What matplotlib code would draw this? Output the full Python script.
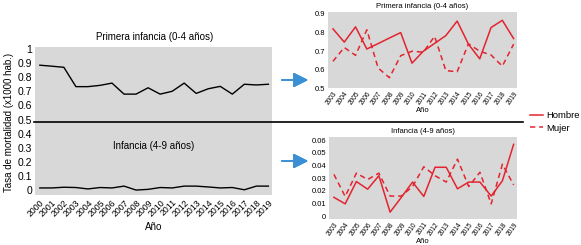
import matplotlib
matplotlib.use('Agg')
import matplotlib.pyplot as plt
from matplotlib.lines import Line2D
import numpy as np

plt.rcParams['font.family'] = ['Liberation Sans', 'DejaVu Sans']

# serie total 2000-2019
years_all = list(range(2000, 2020))
primera_total = [0.885, 0.878, 0.87, 0.733, 0.733, 0.742, 0.758, 0.68, 0.68, 0.725,
                 0.68, 0.70, 0.758, 0.685, 0.718, 0.735, 0.68, 0.75, 0.745, 0.75]
infancia_total = [0.015, 0.015, 0.02, 0.018, 0.008, 0.018, 0.015, 0.028, 0.0, 0.005,
                  0.018, 0.015, 0.028, 0.028, 0.022, 0.015, 0.018, 0.002, 0.028, 0.028]

# por sexo 2003-2019
years_sex = list(range(2003, 2020))
primera_h = [0.82, 0.749, 0.831, 0.712, 0.741, 0.771, 0.80, 0.636, 0.70, 0.742,
             0.784, 0.862, 0.738, 0.659, 0.827, 0.866, 0.768]
primera_m = [0.646, 0.72, 0.678, 0.815, 0.61, 0.558, 0.676, 0.70, 0.695, 0.78,
             0.596, 0.59, 0.74, 0.70, 0.68, 0.62, 0.738]
infancia_h = [0.015, 0.0099, 0.0274, 0.0214, 0.032, 0.0034, 0.015, 0.027, 0.0157, 0.0386,
              0.0386, 0.0217, 0.027, 0.027, 0.016, 0.028, 0.0566]
infancia_m = [0.033, 0.0157, 0.034, 0.029, 0.034, 0.016, 0.016, 0.0235, 0.039, 0.032,
              0.027, 0.045, 0.0235, 0.0347, 0.0099, 0.041, 0.0248]

gris = '#d8d8d8'
rojo = '#e3242f'
azul = '#3b8fd5'

fig = plt.figure(figsize=(5.81, 2.45), dpi=100)

# panel izquierdo
ax = fig.add_axes([35/581, 1-195/245, 237/581, 148/245])
ax.set_facecolor(gris)
for s in ax.spines.values():
    s.set_visible(False)
ax.plot(years_all, primera_total, color='k', lw=1.0)
ax.plot(years_all, infancia_total, color='k', lw=1.0)
ax.set_xlim(1999.6, 2019.3)
ax.set_ylim(-0.035, 1.014)
ax.set_yticks(np.arange(0, 1.01, 0.1))
ax.set_yticklabels([f'{v:g}' for v in np.round(np.arange(0, 1.01, 0.1), 1)], fontsize=7.5)
ax.set_xticks(years_all)
ax.set_xticklabels([str(y) for y in years_all], rotation=45, ha='right',
                   rotation_mode='anchor', fontsize=6.3)
ax.tick_params(length=0, pad=2)
ax.set_xlabel('Año', fontsize=7, labelpad=3)
fig.text(155/581, 1-37/245, 'Primera infancia (0-4 años)', fontsize=7,
         ha='center', va='center')
ax.text(2009.5, 0.31, 'Infancia (4-9 años)', fontsize=7, ha='center', va='center')
fig.text(9/581, 1-122/245, 'Tasa de mortalidad (x1000 hab.)', fontsize=7,
         rotation=90, ha='center', va='center')

# linea divisoria
fig.add_artist(Line2D([34/581, 523/581], [1-122/245, 1-122/245], color='k', lw=1.2))

# flechas
for ya in [80, 161]:
    fig.add_artist(plt.annotate('', xy=(311/581, 1-ya/245), xytext=(279/581, 1-ya/245),
                                xycoords='figure fraction', textcoords='figure fraction',
                                arrowprops=dict(arrowstyle='-|>,head_length=0.9,head_width=0.45',
                                                color=azul, lw=1.2)))

def panel(pos, h, m, ylim, yticks, title):
    a = fig.add_axes(pos)
    a.set_facecolor(gris)
    for s in a.spines.values():
        s.set_visible(False)
    a.plot(years_sex, h, color=rojo, lw=1.1, label='Hombre')
    a.plot(years_sex, m, color=rojo, lw=1.1, ls=(0, (3.5, 2.5)), label='Mujer')
    a.set_xlim(2002.56, 2019.3)
    a.set_ylim(*ylim)
    a.set_yticks(yticks)
    a.set_yticklabels([f'{v:g}' for v in yticks], fontsize=5.5)
    a.set_xticks(years_sex)
    a.set_xticklabels([str(y) for y in years_sex], rotation=55, ha='right',
                      rotation_mode='anchor', fontsize=4.7)
    a.tick_params(axis='x', length=0, pad=1.5)
    a.tick_params(axis='y', length=0, pad=2)
    a.set_xlabel('Año', fontsize=5.5, labelpad=0.5)
    a.set_title(title, fontsize=5.5, pad=3)
    return a

ax1 = panel([328/581, 1-88.5/245, 189/581, 76.2/245], primera_h, primera_m,
            (0.5, 0.909), [0.5, 0.6, 0.7, 0.8, 0.9], 'Primera infancia (0-4 años)')
ax2 = panel([329/581, 1-219/245, 188/581, 82.3/245], infancia_h, infancia_m,
            (-0.002, 0.0626), [0, 0.01, 0.02, 0.03, 0.04, 0.05, 0.06], 'Infancia (4-9 años)')

h, l = ax1.get_legend_handles_labels()
fig.legend(h, l, loc='center left', bbox_to_anchor=(530/581, 1-122/245), frameon=False,
           fontsize=6.8, handlelength=1.4, handletextpad=0.3, labelspacing=0.35,
           borderaxespad=0, borderpad=0)

fig.savefig('out.png', dpi=100)
